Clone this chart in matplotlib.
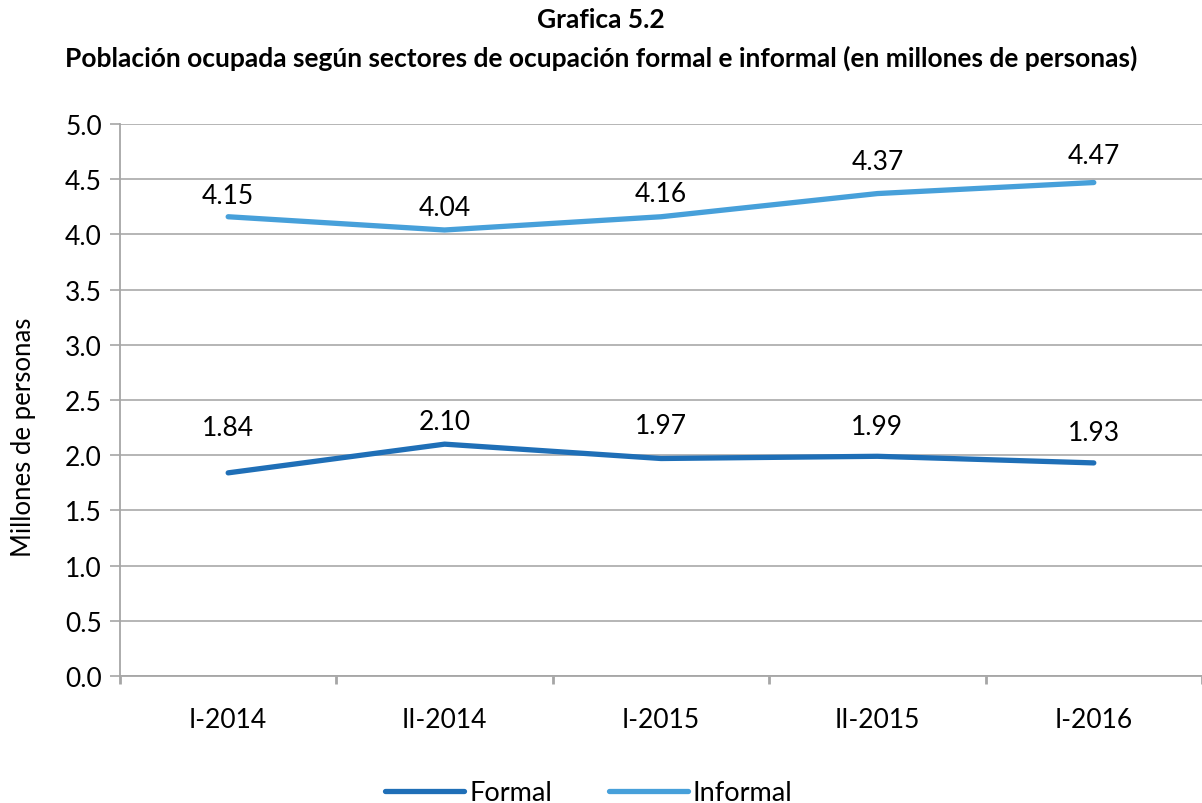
import matplotlib
matplotlib.use('Agg')
import matplotlib.pyplot as plt
import numpy as np

periods = ['I-2014', 'II-2014', 'I-2015', 'II-2015', 'I-2016']
formal = [1.84, 2.10, 1.97, 1.99, 1.93]
informal = [4.16, 4.04, 4.16, 4.37, 4.47]
formal_labels = ['1.84', '2.10', '1.97', '1.99', '1.93']
informal_labels = ['4.15', '4.04', '4.16', '4.37', '4.47']

plt.rcParams['font.family'] = ['Lato', 'DejaVu Sans']

fig = plt.figure(figsize=(12.02, 8.04), dpi=100)
ax = fig.add_axes([0.0998, 0.158, 0.9002, 0.6865])

x = np.arange(len(periods))
ax.plot(x, formal, color='#1f6fb7', lw=3.8, solid_capstyle='round', label='Formal', zorder=3)
ax.plot(x, informal, color='#47a0da', lw=3.8, solid_capstyle='round', label='Informal', zorder=3)

# label offsets in points (label centre above the point), like the original
formal_off = [33, 16, 24, 21.5, 22]
informal_off = [15, 16, 16.5, 23, 19.5]
for i in range(len(x)):
    ax.annotate(formal_labels[i], (x[i], formal[i]), xytext=(0, formal_off[i]),
                textcoords='offset points', ha='center', va='center', fontsize=19)
    ax.annotate(informal_labels[i], (x[i], informal[i]), xytext=(0, informal_off[i]),
                textcoords='offset points', ha='center', va='center', fontsize=19)

ax.set_xlim(-0.5, 4.5)
ax.set_ylim(0, 5)
ax.set_yticks(np.arange(0, 5.01, 0.5))
ax.set_yticklabels([f'{v:.1f}' for v in np.arange(0, 5.01, 0.5)], fontsize=19)
ax.set_xticks(x)
ax.set_xticklabels(periods, fontsize=19)
ax.set_xticks(np.arange(-0.5, 4.6, 1), minor=True)
ax.tick_params(axis='x', which='major', length=0, pad=22)
ax.tick_params(axis='x', which='minor', length=6, width=2, color='#a6a6a6', direction='out')
ax.tick_params(axis='y', length=7, width=1.2, color='#a6a6a6', pad=6)
ax.grid(axis='y', color='#b0b0b0', lw=1.3)
ax.set_axisbelow(True)
for s in ['top', 'right']:
    ax.spines[s].set_visible(False)
ax.spines['left'].set_color('#a6a6a6')
ax.spines['bottom'].set_color('#a6a6a6')
ax.spines['left'].set_linewidth(1.3)
ax.spines['bottom'].set_linewidth(1.3)
ax.set_ylabel('Millones de personas', fontsize=18.5)
ax.yaxis.set_label_coords(-0.078, 0.435)

fig.text(0.5, 0.975, 'Grafica 5.2', ha='center', va='center', fontsize=19, fontweight='bold')
fig.text(0.5, 0.928, 'Población ocupada según sectores de ocupación formal e informal (en millones de personas)',
         ha='center', va='center', fontsize=19, fontweight='bold')

fig.legend(loc='center', bbox_to_anchor=(0.49, 0.013), ncol=2, frameon=False, fontsize=19.5,
           handlelength=2.9, columnspacing=2.1, handletextpad=0.2)

fig.savefig('out.png', dpi=100)
